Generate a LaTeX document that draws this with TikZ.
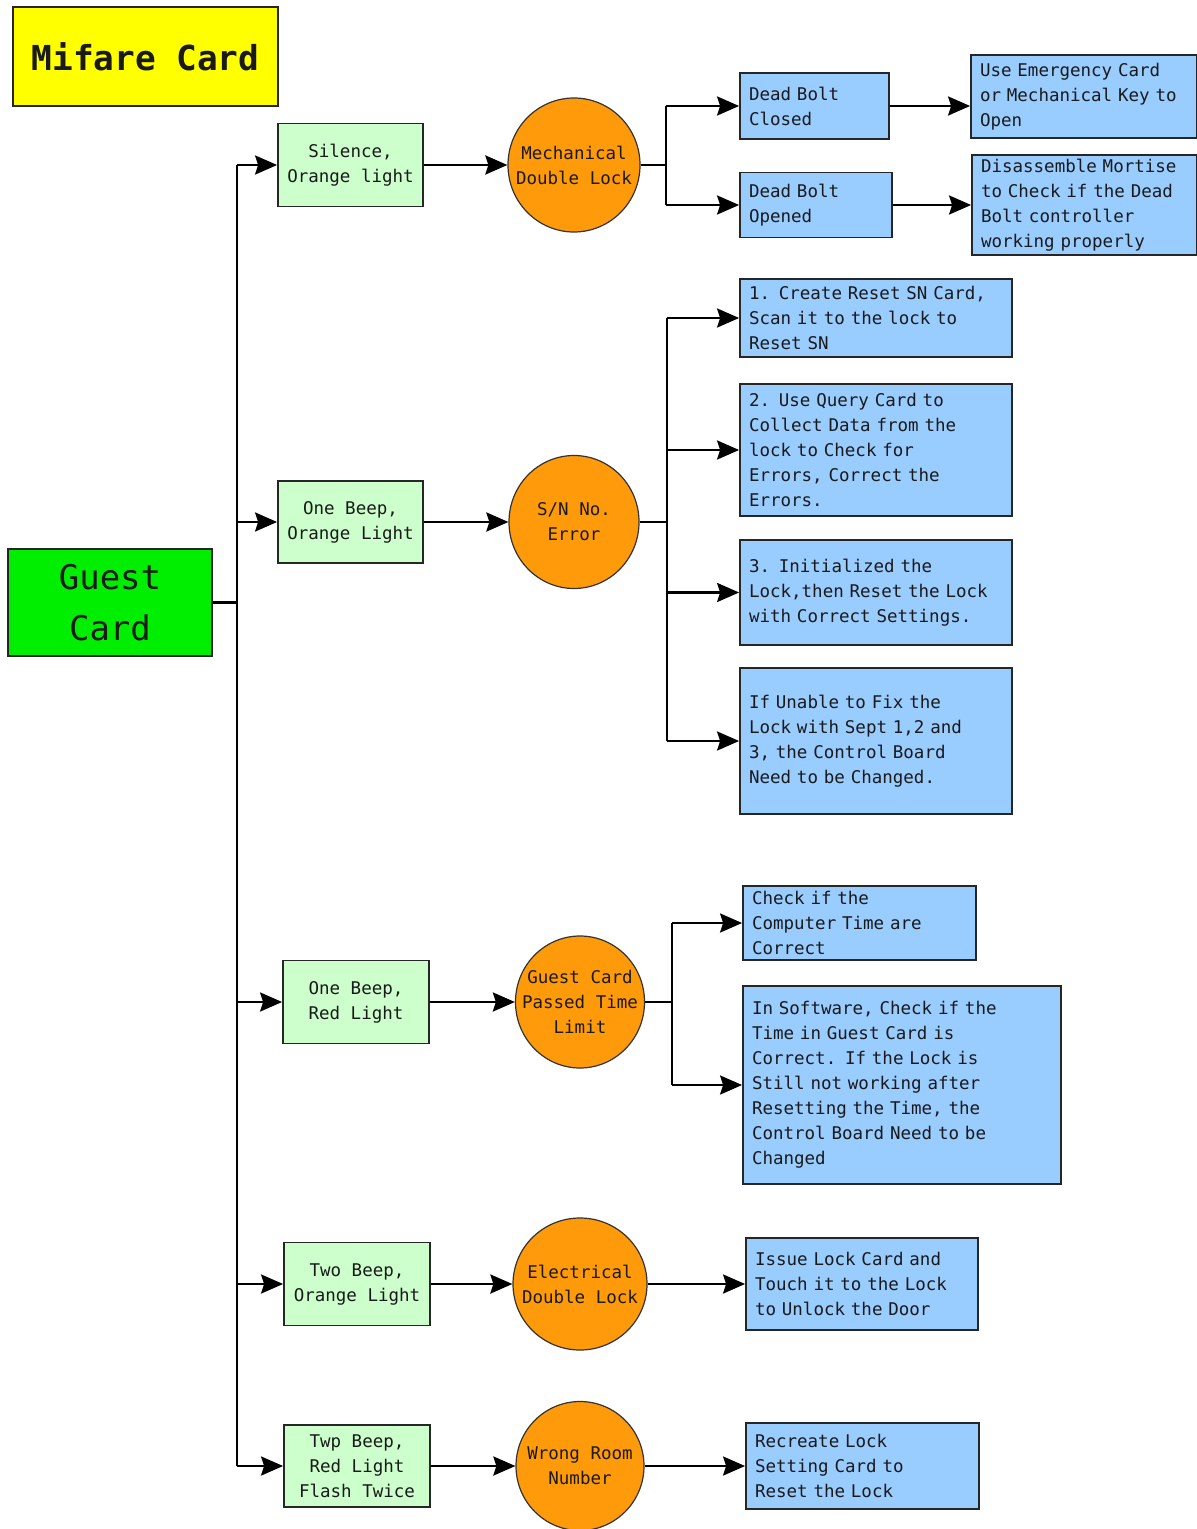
\documentclass[tikz,border=0pt]{standalone}
\usepackage{fontspec}
\setmonofont{DejaVu Sans Mono}
\usetikzlibrary{arrows.meta,shapes.geometric}
\definecolor{yel}{HTML}{FFFF00}
\definecolor{gcard}{HTML}{00EE00}
\definecolor{lgreen}{HTML}{CCFFCC}
\definecolor{orng}{HTML}{FF9A0A}
\definecolor{lblue}{HTML}{99CCFF}
\definecolor{txt}{HTML}{1A1A1A}
\tikzset{
  basefont/.style={font=\ttfamily\fontsize{8.75pt}{12.5pt}\selectfont, text=txt},
  bx/.style 2 args={minimum width=#1*0.5pt, minimum height=#2*0.5pt, inner sep=0pt},
  greenbox/.style={basefont, draw=black!85, line width=0.9pt, fill=lgreen, align=center},
  bluebox/.style={basefont, draw=black!85, line width=0.9pt, fill=lblue, align=left},
  oval/.style={ellipse, draw=black!80, line width=0.6pt, fill=orng, inner sep=0pt},
  ovaltext/.style={basefont, align=center, inner sep=0pt},
  ln/.style={line width=1.3pt, black},
  arr/.style={ln, -{Stealth[length=11pt,width=9.5pt,inset=1.5pt]}},
}
\begin{document}
\begin{tikzpicture}[x=0.5pt,y=-0.5pt]
\useasboundingbox (0,0) rectangle (1197,1529);
\fill[white] (0,0) rectangle (1197,1529);

% title boxes
\node[bx={265}{99}, draw=black!85, line width=0.9pt, fill=yel, font=\ttfamily\bfseries\fontsize{17.2pt}{20pt}\selectfont, text=txt] (mifare) at (145.5,56.5) {Mifare Card};
\node[bx={204}{107}, draw=black!85, line width=0.9pt, fill=gcard, font=\ttfamily\fontsize{17pt}{25.5pt}\selectfont, text=txt, align=center] (guest) at (110,602.5) {Guest\\Card};

% green boxes
\node[greenbox, bx={145}{83}] (g1) at (350.5,165) {Silence,\\Orange light};
\node[greenbox, bx={145}{82}] (g2) at (350.5,522) {One Beep,\\Orange Light};
\node[greenbox, bx={146}{83}] (g3) at (356,1002) {One Beep,\\Red Light};
\node[greenbox, bx={146}{83}] (g4) at (357,1284) {Two Beep,\\Orange Light};
\node[greenbox, bx={146}{82}] (g5) at (357,1466) {Twp Beep,\\Red Light\\Flash Twice};

% ovals (fixed size, text set on top)
\node[oval, minimum width=66pt, minimum height=67pt] (e1) at (574,165) {};
\node[oval, minimum width=65pt, minimum height=66.5pt] (e2) at (574,522) {};
\node[oval, minimum width=64.5pt, minimum height=66pt] (e3) at (580,1002) {};
\node[oval, minimum width=67pt, minimum height=66pt] (e4) at (580,1284) {};
\node[oval, minimum width=64pt, minimum height=64.5pt] (e5) at (580,1466) {};
\node[ovaltext] (e1t) at (e1.center) {Mechanical\\Double Lock};
\node[ovaltext] (e2t) at (e2.center) {S/N No.\\Error};
\node[ovaltext] (e3t) at (e3.center) {Guest Card\\Passed Time\\Limit};
\node[ovaltext] (e4t) at (e4.center) {Electrical\\Double Lock};
\node[ovaltext] (e5t) at (e5.center) {Wrong Room\\Number};

% blue boxes
\node[bluebox, bx={149}{66}, text width=65.5pt] (dbc) at (814.5,106) {Dead Bolt\\Closed};
\node[bluebox, bx={152}{65}, text width=67pt] (dbo) at (816,205) {Dead Bolt\\Opened};
\node[bluebox, bx={226}{83}, text width=104pt] (ue) at (1084,96.5) {Use Emergency Card\\or Mechanical Key to\\Open};
\node[bluebox, bx={225}{100}, text width=103.5pt] (dis) at (1084.5,205) {Disassemble Mortise\\to Check if the Dead\\Bolt controller\\working properly};

\node[bluebox, bx={272}{78}, text width=127pt] (s1) at (876,318) {1. Create Reset SN Card,\\Scan it to the lock to\\Reset SN};
\node[bluebox, bx={272}{132}, text width=127pt] (s2) at (876,450) {2. Use Query Card to\\Collect Data from the\\lock to Check for\\Errors, Correct the\\Errors.};
\node[bluebox, bx={272}{105}, text width=127pt] (s3) at (876,592.5) {3. Initialized the\\Lock,then Reset the Lock\\with Correct Settings.};
\node[bluebox, bx={272}{146}, text width=127pt] (s4) at (876,741) {If Unable to Fix the\\Lock with Sept 1,2 and\\3, the Control Board\\Need to be Changed.};

\node[bluebox, bx={233}{74}, text width=107.5pt] (c1) at (859.5,923) {Check if the\\Computer Time are\\Correct};
\node[bluebox, bx={318}{198}, text width=150pt] (c2) at (902,1085) {In Software, Check if the\\Time in Guest Card is\\Correct. If the Lock is\\Still not working after\\Resetting the Time, the\\Control Board Need to be\\Changed};

\node[bluebox, bx={232}{92}, text width=107pt] (i1) at (862,1284) {Issue Lock Card and\\Touch it to the Lock\\to Unlock the Door};
\node[bluebox, bx={233}{86}, text width=107.5pt] (r1) at (862.5,1466) {Recreate Lock\\Setting Card to\\Reset the Lock};

% trunk
\coordinate (tj) at (237,602.5);
\coordinate (t1) at (237,165);
\coordinate (t2) at (237,522);
\coordinate (t3) at (237,1002);
\coordinate (t4) at (237,1284);
\coordinate (t5) at (237,1466);
\draw[ln] (guest.east) -- (tj);
\draw[ln] (t1) -- (t5);
\draw[arr] (t1) -- (g1.west);
\draw[arr] (t2) -- (g2.west);
\draw[arr] (t3) -- (g3.west);
\draw[arr] (t4) -- (g4.west);
\draw[arr] (t5) -- (g5.west);

% green to ovals
\draw[arr] (g1.east) -- (e1.west);
\draw[arr] (g2.east) -- (e2.west);
\draw[arr] (g3.east) -- (e3.west);
\draw[arr] (g4.east) -- (e4.west);
\draw[arr] (g5.east) -- (e5.west);

% branch 1
\coordinate (b1) at (666,165);
\coordinate (b1a) at (666,106);
\coordinate (b1b) at (666,205);
\draw[ln] (e1.east) -- (b1);
\draw[ln] (b1a) -- (b1b);
\draw[arr] (b1a) -- (dbc.west);
\draw[arr] (b1b) -- (dbo.west);
\draw[arr] (dbc.east) -- (dbc.east -| ue.west);
\draw[arr] (dbo.east) -- (dbo.east -| dis.west);

% branch 2
\coordinate (b2) at (667,522);
\coordinate (b2a) at (667,318);
\coordinate (b2b) at (667,450);
\coordinate (b2c) at (667,592.5);
\coordinate (b2d) at (667,741);
\draw[ln] (e2.east) -- (b2);
\draw[ln] (b2a) -- (b2d);
\draw[arr] (b2a) -- (s1.west);
\draw[arr] (b2b) -- (s2.west);
\draw[arr] (b2c) -- (s3.west);
\draw[arr] (b2d) -- (s4.west);

% branch 3
\coordinate (b3) at (672,1002);
\coordinate (b3a) at (672,923);
\coordinate (b3b) at (672,1085);
\draw[ln] (e3.east) -- (b3);
\draw[ln] (b3a) -- (b3b);
\draw[arr] (b3a) -- (c1.west);
\draw[arr] (b3b) -- (c2.west);

% branches 4, 5
\draw[arr] (e4.east) -- (i1.west);
\draw[arr] (e5.east) -- (r1.west);
\end{tikzpicture}
\end{document}
